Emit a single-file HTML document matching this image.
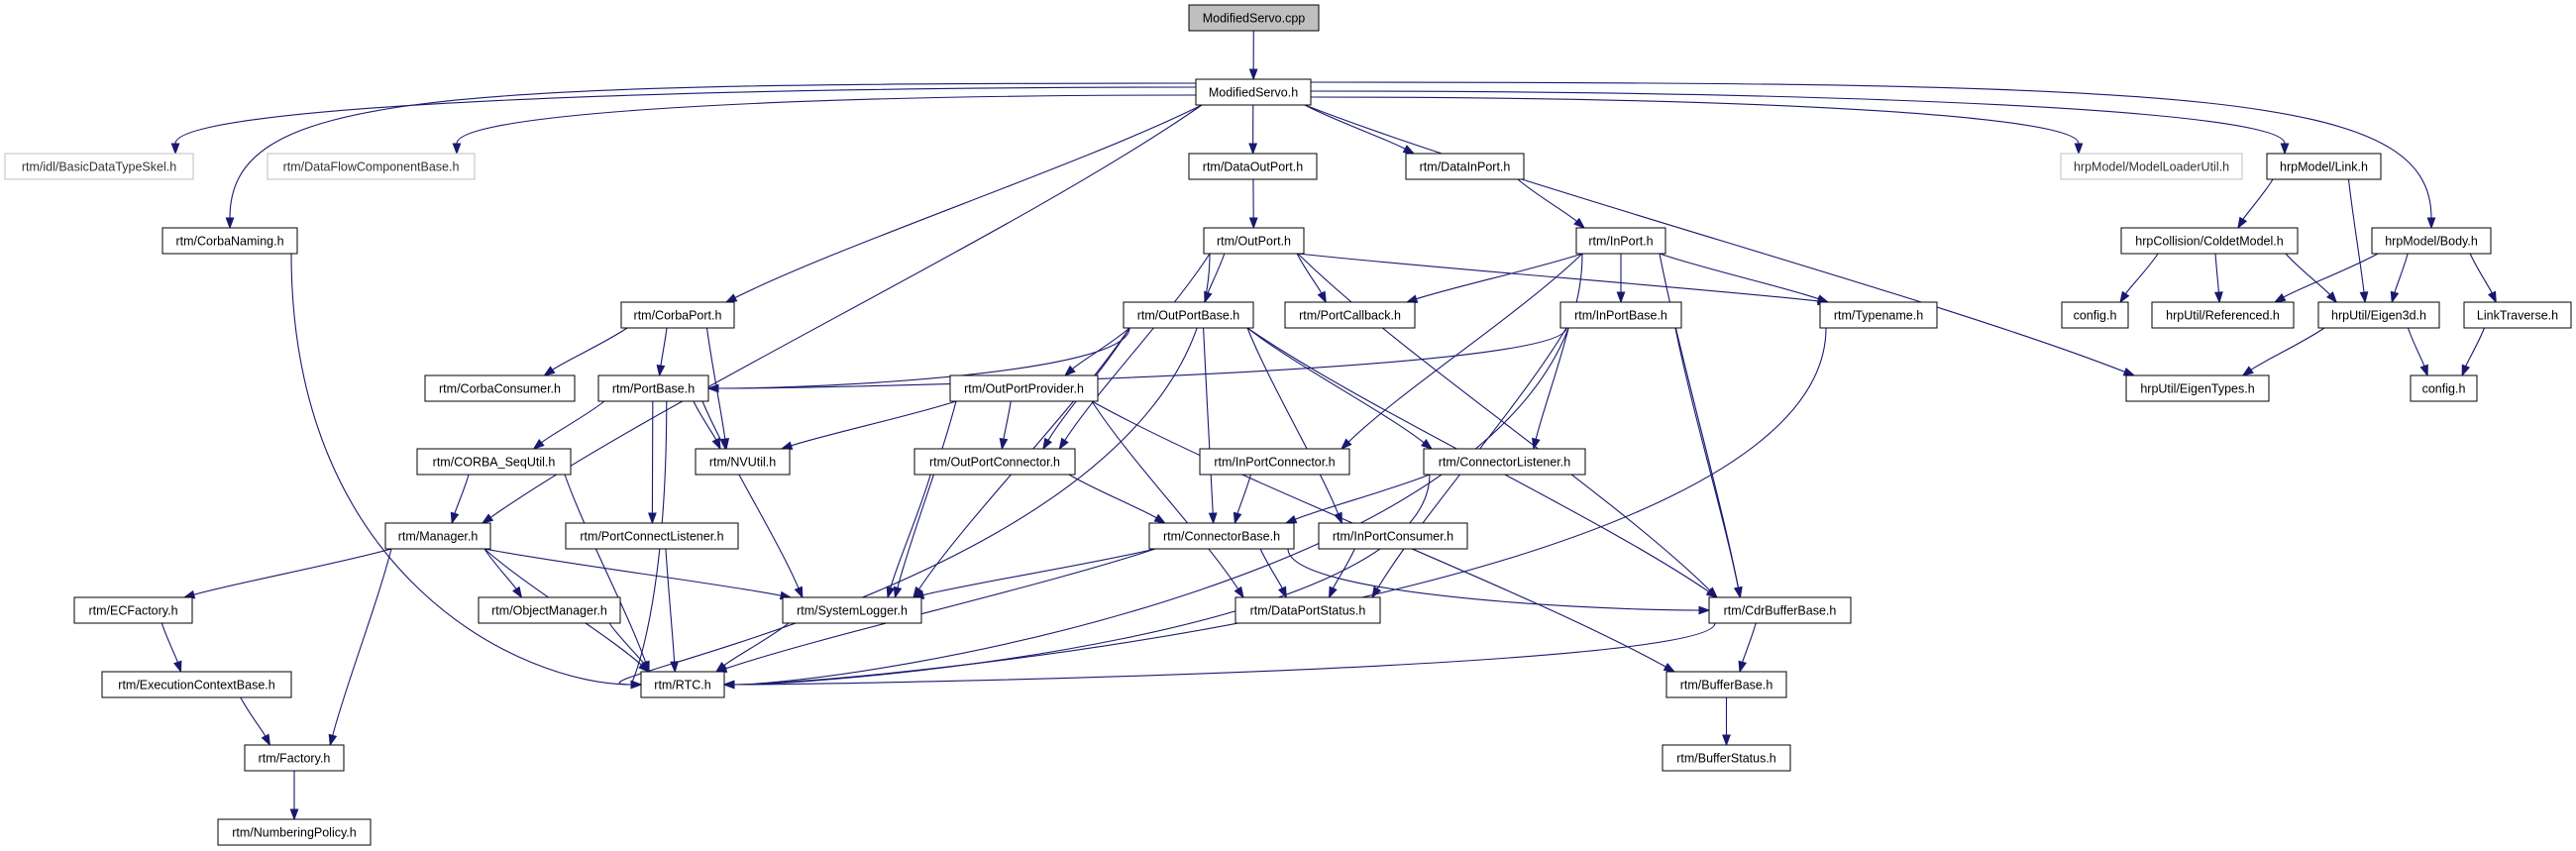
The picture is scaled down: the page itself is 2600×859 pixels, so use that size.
<!DOCTYPE html>
<html><head><meta charset="utf-8">
<style>
html,body{margin:0;padding:0;background:#fff;}
svg{display:block;}
text{font-family:"Liberation Sans",Arial,sans-serif;font-size:12.5px;text-anchor:middle;fill:#000;}
</style></head>
<body>
<svg id="g" width="2600" height="859" viewBox="0 0 2600 859" xmlns="http://www.w3.org/2000/svg">
<g id="edges" fill="none" stroke="#191970" stroke-width="1.1"></g>
<g id="heads" fill="#191970" stroke="#191970" stroke-width="1"></g>
<g id="nodes">
<rect x="1200" y="5" width="131" height="26" fill="#bfbfbf" stroke="#000"/><text x="1265.5" y="22.5">ModifiedServo.cpp</text>
<rect x="1207" y="80" width="116" height="26" fill="#fff" stroke="#000"/><text x="1265" y="97.5">ModifiedServo.h</text>
<rect x="5" y="155" width="190" height="26" fill="#fff" stroke="#bfbfbf"/><text x="100" y="172.5" style="fill:#333">rtm/idl/BasicDataTypeSkel.h</text>
<rect x="270" y="155" width="209" height="26" fill="#fff" stroke="#bfbfbf"/><text x="374.5" y="172.5" style="fill:#333">rtm/DataFlowComponentBase.h</text>
<rect x="1200" y="155" width="129" height="26" fill="#fff" stroke="#000"/><text x="1264.5" y="172.5">rtm/DataOutPort.h</text>
<rect x="1419" y="155" width="119" height="26" fill="#fff" stroke="#000"/><text x="1478.5" y="172.5">rtm/DataInPort.h</text>
<rect x="2080" y="155" width="183" height="26" fill="#fff" stroke="#bfbfbf"/><text x="2171.5" y="172.5" style="fill:#333">hrpModel/ModelLoaderUtil.h</text>
<rect x="2288" y="155" width="115" height="26" fill="#fff" stroke="#000"/><text x="2345.5" y="172.5">hrpModel/Link.h</text>
<rect x="164" y="230" width="136" height="26" fill="#fff" stroke="#000"/><text x="232" y="247.5">rtm/CorbaNaming.h</text>
<rect x="1215" y="230" width="101" height="26" fill="#fff" stroke="#000"/><text x="1265.5" y="247.5">rtm/OutPort.h</text>
<rect x="1591" y="230" width="90" height="26" fill="#fff" stroke="#000"/><text x="1636" y="247.5">rtm/InPort.h</text>
<rect x="2141" y="230" width="178" height="26" fill="#fff" stroke="#000"/><text x="2230" y="247.5">hrpCollision/ColdetModel.h</text>
<rect x="2394" y="230" width="120" height="26" fill="#fff" stroke="#000"/><text x="2454" y="247.5">hrpModel/Body.h</text>
<rect x="627" y="305" width="114" height="26" fill="#fff" stroke="#000"/><text x="684" y="322.5">rtm/CorbaPort.h</text>
<rect x="1134" y="305" width="131" height="26" fill="#fff" stroke="#000"/><text x="1199.5" y="322.5">rtm/OutPortBase.h</text>
<rect x="1297" y="305" width="131" height="26" fill="#fff" stroke="#000"/><text x="1362.5" y="322.5">rtm/PortCallback.h</text>
<rect x="1575" y="305" width="122" height="26" fill="#fff" stroke="#000"/><text x="1636" y="322.5">rtm/InPortBase.h</text>
<rect x="1837" y="305" width="118" height="26" fill="#fff" stroke="#000"/><text x="1896" y="322.5">rtm/Typename.h</text>
<rect x="2081" y="305" width="67" height="26" fill="#fff" stroke="#000"/><text x="2114.5" y="322.5">config.h</text>
<rect x="2172" y="305" width="143" height="26" fill="#fff" stroke="#000"/><text x="2243.5" y="322.5">hrpUtil/Referenced.h</text>
<rect x="2340" y="305" width="122" height="26" fill="#fff" stroke="#000"/><text x="2401" y="322.5">hrpUtil/Eigen3d.h</text>
<rect x="2487" y="305" width="108" height="26" fill="#fff" stroke="#000"/><text x="2541" y="322.5">LinkTraverse.h</text>
<rect x="429" y="379" width="151" height="26" fill="#fff" stroke="#000"/><text x="504.5" y="396.5">rtm/CorbaConsumer.h</text>
<rect x="604" y="379" width="111" height="26" fill="#fff" stroke="#000"/><text x="659.5" y="396.5">rtm/PortBase.h</text>
<rect x="959" y="379" width="149" height="26" fill="#fff" stroke="#000"/><text x="1033.5" y="396.5">rtm/OutPortProvider.h</text>
<rect x="2146" y="379" width="144" height="26" fill="#fff" stroke="#000"/><text x="2218" y="396.5">hrpUtil/EigenTypes.h</text>
<rect x="2433" y="379" width="67" height="26" fill="#fff" stroke="#000"/><text x="2466.5" y="396.5">config.h</text>
<rect x="421" y="453" width="155" height="26" fill="#fff" stroke="#000"/><text x="498.5" y="470.5">rtm/CORBA_SeqUtil.h</text>
<rect x="702" y="453" width="95" height="26" fill="#fff" stroke="#000"/><text x="749.5" y="470.5">rtm/NVUtil.h</text>
<rect x="923" y="453" width="162" height="26" fill="#fff" stroke="#000"/><text x="1004" y="470.5">rtm/OutPortConnector.h</text>
<rect x="1211" y="453" width="151" height="26" fill="#fff" stroke="#000"/><text x="1286.5" y="470.5">rtm/InPortConnector.h</text>
<rect x="1437" y="453" width="163" height="26" fill="#fff" stroke="#000"/><text x="1518.5" y="470.5">rtm/ConnectorListener.h</text>
<rect x="389" y="528" width="106" height="26" fill="#fff" stroke="#000"/><text x="442" y="545.5">rtm/Manager.h</text>
<rect x="571" y="528" width="174" height="26" fill="#fff" stroke="#000"/><text x="658" y="545.5">rtm/PortConnectListener.h</text>
<rect x="1160" y="528" width="146" height="26" fill="#fff" stroke="#000"/><text x="1233" y="545.5">rtm/ConnectorBase.h</text>
<rect x="1331" y="528" width="150" height="26" fill="#fff" stroke="#000"/><text x="1406" y="545.5">rtm/InPortConsumer.h</text>
<rect x="75" y="603" width="119" height="26" fill="#fff" stroke="#000"/><text x="134.5" y="620.5">rtm/ECFactory.h</text>
<rect x="483" y="603" width="143" height="26" fill="#fff" stroke="#000"/><text x="554.5" y="620.5">rtm/ObjectManager.h</text>
<rect x="790" y="603" width="140" height="26" fill="#fff" stroke="#000"/><text x="860" y="620.5">rtm/SystemLogger.h</text>
<rect x="1247" y="603" width="146" height="26" fill="#fff" stroke="#000"/><text x="1320" y="620.5">rtm/DataPortStatus.h</text>
<rect x="1725" y="603" width="143" height="26" fill="#fff" stroke="#000"/><text x="1796.5" y="620.5">rtm/CdrBufferBase.h</text>
<rect x="103" y="678" width="191" height="26" fill="#fff" stroke="#000"/><text x="198.5" y="695.5">rtm/ExecutionContextBase.h</text>
<rect x="647" y="678" width="84" height="26" fill="#fff" stroke="#000"/><text x="689" y="695.5">rtm/RTC.h</text>
<rect x="1682" y="678" width="121" height="26" fill="#fff" stroke="#000"/><text x="1742.5" y="695.5">rtm/BufferBase.h</text>
<rect x="247" y="752" width="100" height="26" fill="#fff" stroke="#000"/><text x="297" y="769.5">rtm/Factory.h</text>
<rect x="1678" y="752" width="129" height="26" fill="#fff" stroke="#000"/><text x="1742.5" y="769.5">rtm/BufferStatus.h</text>
<rect x="220" y="827" width="154" height="26" fill="#fff" stroke="#000"/><text x="297" y="844.5">rtm/NumberingPolicy.h</text>
</g>
</svg>
<script>
(function(){
var N={};
var rs=document.querySelectorAll('#nodes rect');
rs.forEach(function(r){var t=r.nextElementSibling.textContent;var k=t;var i=2;while(N[k]){k=t+i;i++;}
N[k]={x:+r.getAttribute('x'),y:+r.getAttribute('y'),w:+r.getAttribute('width'),h:+r.getAttribute('height')};});
var E=[
["ModifiedServo.cpp","ModifiedServo.h"],
["ModifiedServo.h","rtm/idl/BasicDataTypeSkel.h","S",8],["ModifiedServo.h","rtm/DataFlowComponentBase.h","S",16],
["ModifiedServo.h","rtm/CorbaNaming.h","S",4],["ModifiedServo.h","rtm/CorbaPort.h"],["ModifiedServo.h","rtm/Manager.h"],
["ModifiedServo.h","rtm/DataOutPort.h"],["ModifiedServo.h","rtm/DataInPort.h"],["ModifiedServo.h","hrpModel/ModelLoaderUtil.h","S",18],
["ModifiedServo.h","hrpModel/Link.h","S",12],["ModifiedServo.h","hrpModel/Body.h","S",3],["ModifiedServo.h","hrpUtil/EigenTypes.h"],
["rtm/DataOutPort.h","rtm/OutPort.h"],["rtm/DataInPort.h","rtm/InPort.h"],
["rtm/OutPort.h","rtm/OutPortBase.h"],["rtm/OutPort.h","rtm/PortCallback.h"],["rtm/OutPort.h","rtm/RTC.h","L"],
["rtm/OutPort.h","rtm/OutPortConnector.h"],["rtm/OutPort.h","rtm/Typename.h"],["rtm/OutPort.h","rtm/CdrBufferBase.h"],
["rtm/InPort.h","rtm/PortCallback.h"],["rtm/InPort.h","rtm/InPortBase.h"],["rtm/InPort.h","rtm/Typename.h"],
["rtm/InPort.h","rtm/InPortConnector.h"],["rtm/InPort.h","rtm/CdrBufferBase.h"],["rtm/InPort.h","rtm/RTC.h","R"],
["rtm/CorbaNaming.h","rtm/RTC.h","L"],
["rtm/CorbaPort.h","rtm/CorbaConsumer.h"],["rtm/CorbaPort.h","rtm/PortBase.h"],["rtm/CorbaPort.h","rtm/NVUtil.h"],
["rtm/OutPortBase.h","rtm/PortBase.h","R"],["rtm/OutPortBase.h","rtm/OutPortProvider.h"],["rtm/OutPortBase.h","rtm/SystemLogger.h"],
["rtm/OutPortBase.h","rtm/OutPortConnector.h"],["rtm/OutPortBase.h","rtm/ConnectorBase.h"],["rtm/OutPortBase.h","rtm/InPortConsumer.h"],
["rtm/OutPortBase.h","rtm/ConnectorListener.h"],["rtm/OutPortBase.h","rtm/CdrBufferBase.h"],
["rtm/InPortBase.h","rtm/PortBase.h","R"],["rtm/InPortBase.h","rtm/ConnectorListener.h"],["rtm/InPortBase.h","rtm/DataPortStatus.h"],
["rtm/InPortBase.h","rtm/CdrBufferBase.h"],
["rtm/Typename.h","rtm/RTC.h","R"],
["rtm/PortBase.h","rtm/CORBA_SeqUtil.h"],["rtm/PortBase.h","rtm/NVUtil.h"],["rtm/PortBase.h","rtm/PortConnectListener.h"],
["rtm/PortBase.h","rtm/SystemLogger.h"],["rtm/PortBase.h","rtm/RTC.h","L"],
["rtm/OutPortProvider.h","rtm/NVUtil.h"],["rtm/OutPortProvider.h","rtm/OutPortConnector.h"],["rtm/OutPortProvider.h","rtm/SystemLogger.h"],
["rtm/OutPortProvider.h","rtm/DataPortStatus.h"],["rtm/OutPortProvider.h","rtm/BufferBase.h"],
["rtm/CORBA_SeqUtil.h","rtm/Manager.h"],["rtm/CORBA_SeqUtil.h","rtm/RTC.h"],
["rtm/Manager.h","rtm/ECFactory.h"],["rtm/Manager.h","rtm/ObjectManager.h"],["rtm/Manager.h","rtm/SystemLogger.h"],
["rtm/Manager.h","rtm/RTC.h"],["rtm/Manager.h","rtm/Factory.h"],
["rtm/PortConnectListener.h","rtm/RTC.h"],
["rtm/OutPortConnector.h","rtm/ConnectorBase.h"],["rtm/OutPortConnector.h","rtm/SystemLogger.h"],
["rtm/InPortConnector.h","rtm/ConnectorBase.h"],
["rtm/ConnectorListener.h","rtm/ConnectorBase.h"],["rtm/ConnectorListener.h","rtm/RTC.h","R"],
["rtm/ConnectorBase.h","rtm/SystemLogger.h"],["rtm/ConnectorBase.h","rtm/DataPortStatus.h"],["rtm/ConnectorBase.h","rtm/CdrBufferBase.h","L"],
["rtm/ConnectorBase.h","rtm/RTC.h"],
["rtm/InPortConsumer.h","rtm/DataPortStatus.h"],
["rtm/ECFactory.h","rtm/ExecutionContextBase.h"],["rtm/ExecutionContextBase.h","rtm/Factory.h"],["rtm/Factory.h","rtm/NumberingPolicy.h"],
["rtm/ObjectManager.h","rtm/RTC.h"],["rtm/SystemLogger.h","rtm/RTC.h"],
["rtm/CdrBufferBase.h","rtm/RTC.h","R"],["rtm/CdrBufferBase.h","rtm/BufferBase.h"],["rtm/BufferBase.h","rtm/BufferStatus.h"],
["hrpModel/Link.h","hrpCollision/ColdetModel.h"],["hrpModel/Link.h","hrpUtil/Eigen3d.h"],
["hrpCollision/ColdetModel.h","config.h"],["hrpCollision/ColdetModel.h","hrpUtil/Referenced.h"],["hrpCollision/ColdetModel.h","hrpUtil/Eigen3d.h"],
["hrpModel/Body.h","hrpUtil/Referenced.h"],["hrpModel/Body.h","hrpUtil/Eigen3d.h"],["hrpModel/Body.h","LinkTraverse.h"],
["hrpUtil/Eigen3d.h","hrpUtil/EigenTypes.h"],["hrpUtil/Eigen3d.h","config.h2"],["LinkTraverse.h","config.h2"]
];
var eg=document.getElementById('edges'),hg=document.getElementById('heads'),ns='http://www.w3.org/2000/svg';
function cl(v,a,b){return Math.max(a,Math.min(b,v));}
E.forEach(function(e){
var s=N[e[0]],t=N[e[1]];if(!s||!t)return;
var scx=s.x+s.w/2,tcx=t.x+t.w/2;
var x1=scx+cl((tcx-scx)*0.45,-s.w/2+6,s.w/2-6),y1=s.y+s.h;
var x2,y2,c1x,c1y,c2x,c2y;
if(e[2]=="S"){
 var dir=tcx<scx?-1:1;
 x1=dir<0?s.x:s.x+s.w; y1=s.y+e[3];
 x2=dir<0?t.x+t.w-18:t.x+18; y2=t.y;
 if(e[1]=="hrpModel/Body.h"||e[1]=="rtm/CorbaNaming.h"){x2=tcx;}
 c1x=x1+(x2-x1)*0.55;c1y=y1;c2x=x2;c2y=y1+ (y2-y1)*0.3;
 if(e[1]=="hrpModel/Body.h"||e[1]=="rtm/CorbaNaming.h"){c1x=x1+(x2-x1)*0.8;c2x=x2;c2y=y1+10;}
}else if(e[2]=="L"||e[2]=="R"){
 y2=t.y+t.h/2; x2=e[2]=="L"?t.x:t.x+t.w;
 var d2=e[2]=="L"?-1:1;
 c1x=x1;c1y=y1+(y2-y1)*0.75;c2x=x2+d2*Math.min(120,Math.abs(x2-x1)*0.4);c2y=y2;
}else{
 x2=tcx+cl((scx-tcx)*0.25,-t.w/2+8,t.w/2-8);y2=t.y;
 var dy=y2-y1;
 c1x=x1+(x2-x1)*0.25;c1y=y1+dy*0.3;c2x=x2-(x2-x1)*0.25;c2y=y2-dy*0.3;
}
var ang=Math.atan2(y2-c2y,x2-c2x),L=10,W=3.7;
var bx=x2-L*Math.cos(ang),by=y2-L*Math.sin(ang);
var p=document.createElementNS(ns,'path');
p.setAttribute('d','M'+x1+','+y1+' C'+c1x+','+c1y+' '+c2x+','+c2y+' '+bx+','+by);
eg.appendChild(p);
var px=-Math.sin(ang)*W,py=Math.cos(ang)*W;
var h=document.createElementNS(ns,'polygon');
h.setAttribute('points',x2+','+y2+' '+(bx+px)+','+(by+py)+' '+(bx-px)+','+(by-py));
hg.appendChild(h);
});
})();
</script>
</body></html>
